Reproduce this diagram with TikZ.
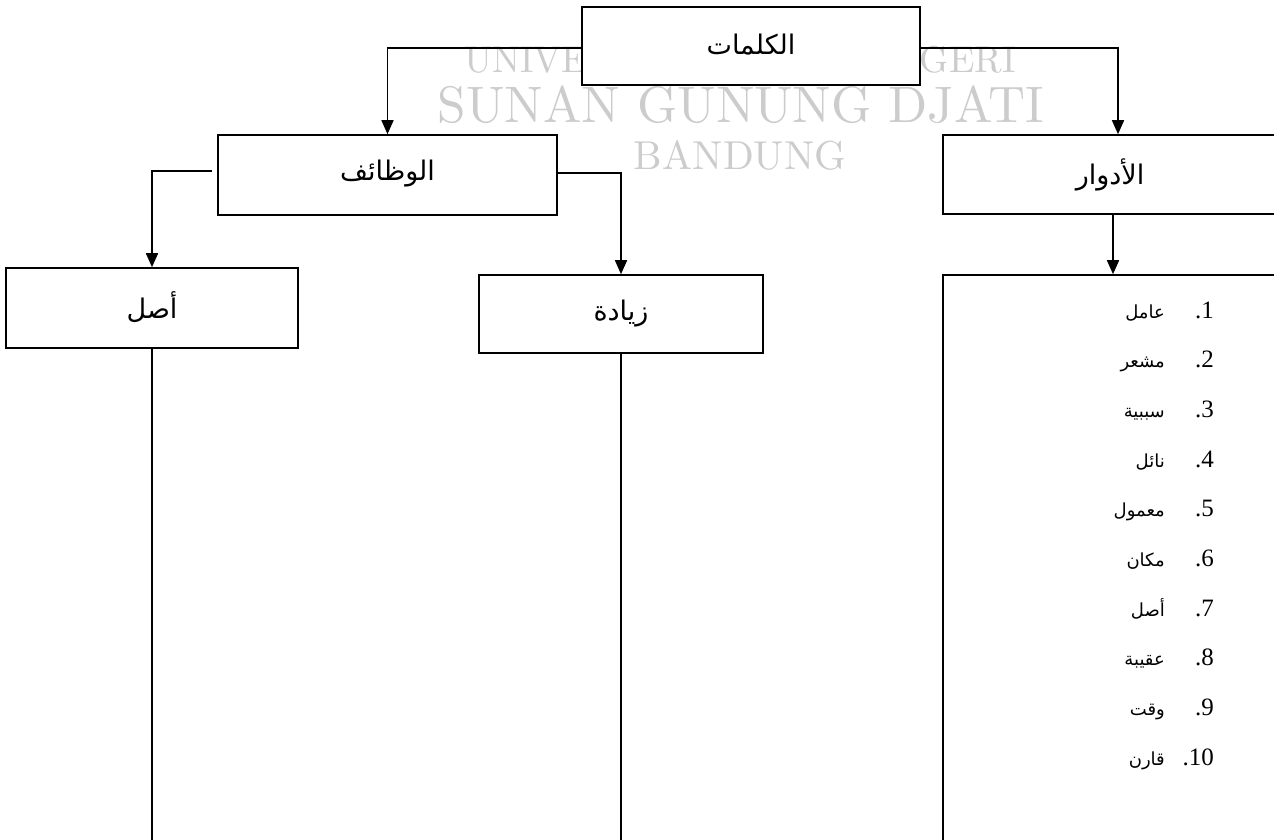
\documentclass[tikz,border=0pt]{standalone}
\usepackage{fontspec}
\newfontfamily\arabicfont[Script=Arabic]{DejaVu Sans}
\newfontfamily\numfont{Liberation Serif}
\TeXXeTstate=1
\usetikzlibrary{arrows.meta}
\begin{document}
\begin{tikzpicture}[x=1pt,y=-1pt,
  box/.style={draw, line width=1.6pt, fill=white, inner sep=0pt, font=\arabicfont\fontsize{27}{32}\selectfont},
  conn/.style={line width=1.6pt},
  arr/.style={conn, -{Triangle[length=14pt,width=12pt]}},
  wm/.style={text=black!20, inner sep=0pt},
  num/.style={anchor=base east, inner sep=0pt, font=\numfont\fontsize{25}{30}\selectfont},
  word/.style={anchor=base east, inner sep=0pt, font=\arabicfont\fontsize{18}{22}\selectfont},
]
\useasboundingbox (0,0) rectangle (1274,839);
\clip (0,0) rectangle (1274,839);
\fill[white] (0,0) rectangle (1274,839);
% watermark
\node[wm] (wm1) at (740,60) {\resizebox{551pt}{!}{UNIVERSITAS ISLAM NEGERI}};
\node[wm] (wm2) at (741,105) {\resizebox{606pt}{!}{SUNAN GUNUNG DJATI}};
\node[wm] (wm3) at (740,155) {\resizebox{212pt}{!}{BANDUNG}};
% boxes
\node[box, minimum width=338pt, minimum height=78pt] (kal) at (751,46) {\raisebox{4pt}{\beginR الكلمات\endR}};
\node[box, minimum width=339pt, minimum height=80pt] (waz) at (387.5,175) {\raisebox{10pt}{\beginR الوظائف\endR}};
\node[box, minimum width=350pt, minimum height=79pt] (adw) at (1118,174.5) {\beginR الأدوار\endR\kern16pt};
\node[box, minimum width=292pt, minimum height=80pt] (asl) at (152,308) {\raisebox{5pt}{\beginR أصل\endR}};
\node[box, minimum width=284pt, minimum height=78pt] (zyd) at (621,314) {\raisebox{4pt}{\beginR زيادة\endR}};
\node[box, minimum width=340pt, minimum height=625pt] (lst) at (1113,587.5) {};
% connectors
\draw[arr] ([yshift=-2pt]kal.west) -| (waz.north);
\draw[arr] ([yshift=-2pt]kal.east) -| (adw.north);
\draw[arr] (adw.south -| lst.north) -- (lst.north);
\draw[arr] ([xshift=-5pt,yshift=4pt]waz.west) -| (asl.north);
\draw[arr] ([yshift=2pt]waz.east) -| (zyd.north);
\coordinate (bot) at (0,845);
\draw[conn] (asl.south) -- (asl.south |- bot);
\draw[conn] (zyd.south) -- (zyd.south |- bot);
% list
\foreach \n/\w [count=\i] in {1/عامل,2/مشعر,3/سببية,4/نائل,5/معمول,6/مكان,7/أصل,8/عقيبة,9/وقت,10/قارن}{
  \node[num] (n\i) at (1214,{318+(\i-1)*49.7}) {.\n};
  \node[word] (w\i) at (1165,{318+(\i-1)*49.7}) {\beginR\w\endR};
}
\end{tikzpicture}
\end{document}
